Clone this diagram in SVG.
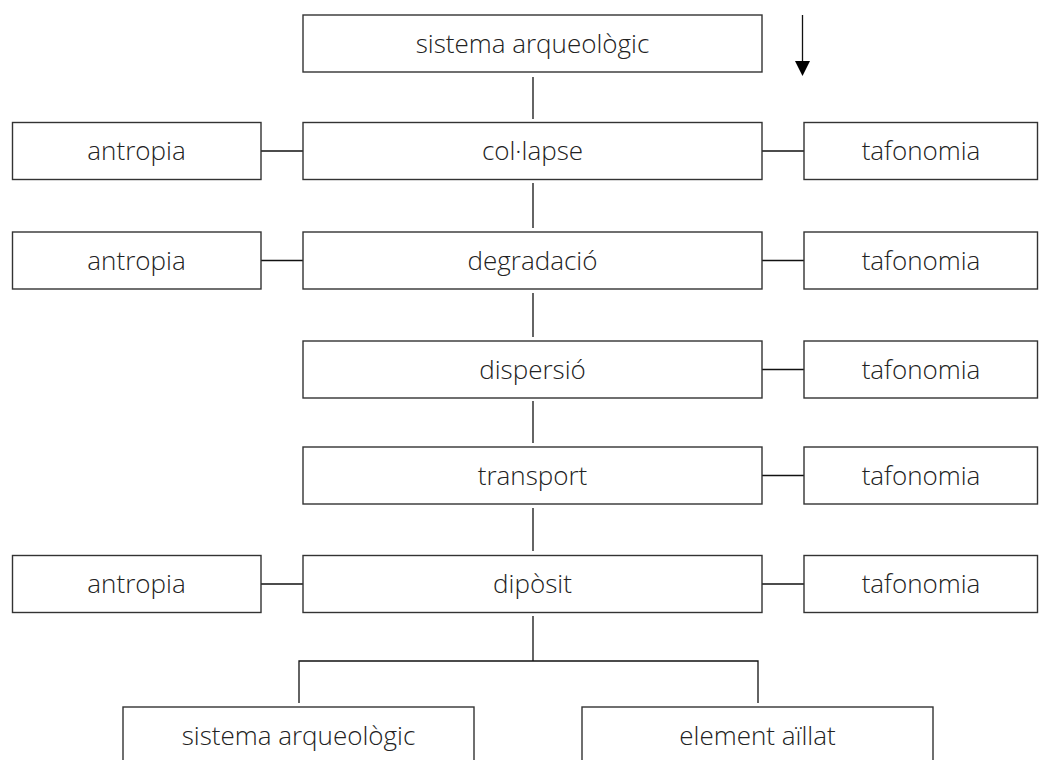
<svg xmlns="http://www.w3.org/2000/svg" width="1039" height="760" viewBox="0 0 1039 760">
<style>
.b{fill:#fff;stroke:#333;stroke-width:1.4}
.t{font-family:"Open Sans","Noto Sans",sans-serif;font-weight:300;font-size:26px;fill:#222;text-anchor:middle}
.c{stroke:#111;stroke-width:1.3;fill:none}
</style>
<rect width="1039" height="760" fill="#fff"/>
<g id="connectors">
<line class="c" x1="533" y1="77" x2="533" y2="119"/>
<line class="c" x1="533" y1="183" x2="533" y2="228"/>
<line class="c" x1="533" y1="293" x2="533" y2="337"/>
<line class="c" x1="533" y1="401" x2="533" y2="443"/>
<line class="c" x1="533" y1="508" x2="533" y2="551"/>
<line class="c" x1="533" y1="616" x2="533" y2="661"/>
<polyline class="c" points="299,703 299,661 758,661 758,703"/>
<line class="c" x1="261" y1="151" x2="303" y2="151"/>
<line class="c" x1="261" y1="260.5" x2="303" y2="260.5"/>
<line class="c" x1="261" y1="584" x2="303" y2="584"/>
<line class="c" x1="762" y1="151" x2="804" y2="151"/>
<line class="c" x1="762" y1="260.5" x2="804" y2="260.5"/>
<line class="c" x1="762" y1="369.5" x2="804" y2="369.5"/>
<line class="c" x1="762" y1="475.5" x2="804" y2="475.5"/>
<line class="c" x1="762" y1="584" x2="804" y2="584"/>
<line class="c" x1="802.5" y1="15" x2="802.5" y2="62"/>
<polygon points="795,61 810,61 802.5,76" fill="#000"/>
</g>
<g id="n-top"><rect class="b" x="303" y="15" width="459" height="57"/><text class="t" x="532.5" y="53">sistema arqueològic</text></g>
<g id="n-collapse"><rect class="b" x="303" y="122.5" width="459" height="57"/><text class="t" x="532.5" y="160">col·lapse</text></g>
<g id="n-degradacio"><rect class="b" x="303" y="232" width="459" height="57"/><text class="t" x="532.5" y="269.5">degradació</text></g>
<g id="n-dispersio"><rect class="b" x="303" y="341" width="459" height="57"/><text class="t" x="532.5" y="378.5">dispersió</text></g>
<g id="n-transport"><rect class="b" x="303" y="447" width="459" height="57"/><text class="t" x="532.5" y="484.5">transport</text></g>
<g id="n-diposit"><rect class="b" x="303" y="555.5" width="459" height="57"/><text class="t" x="532.5" y="593">dipòsit</text></g>
<g id="n-antropia1"><rect class="b" x="12.5" y="122.5" width="248.5" height="57"/><text class="t" x="136.5" y="160">antropia</text></g>
<g id="n-antropia2"><rect class="b" x="12.5" y="232" width="248.5" height="57"/><text class="t" x="136.5" y="269.5">antropia</text></g>
<g id="n-antropia3"><rect class="b" x="12.5" y="555.5" width="248.5" height="57"/><text class="t" x="136.5" y="593">antropia</text></g>
<g id="n-taf1"><rect class="b" x="804" y="122.5" width="233.5" height="57"/><text class="t" x="921" y="160">tafonomia</text></g>
<g id="n-taf2"><rect class="b" x="804" y="232" width="233.5" height="57"/><text class="t" x="921" y="269.5">tafonomia</text></g>
<g id="n-taf3"><rect class="b" x="804" y="341" width="233.5" height="57"/><text class="t" x="921" y="378.5">tafonomia</text></g>
<g id="n-taf4"><rect class="b" x="804" y="447" width="233.5" height="57"/><text class="t" x="921" y="484.5">tafonomia</text></g>
<g id="n-taf5"><rect class="b" x="804" y="555.5" width="233.5" height="57"/><text class="t" x="921" y="593">tafonomia</text></g>
<g id="n-sistema2"><rect class="b" x="123" y="707" width="351" height="70"/><text class="t" x="298.5" y="745">sistema arqueològic</text></g>
<g id="n-element"><rect class="b" x="582" y="707" width="351" height="70"/><text class="t" x="757.5" y="745">element aïllat</text></g>
</svg>
